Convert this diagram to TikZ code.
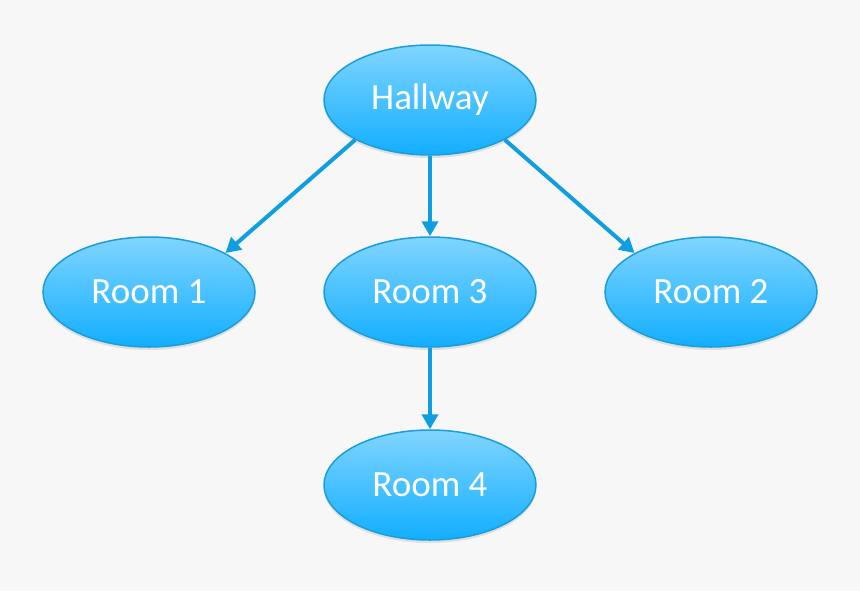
\documentclass[tikz,border=0pt]{standalone}
\usepackage{fontspec}
\setmainfont{Carlito}
\usetikzlibrary{shapes.geometric,arrows.meta,shadows}
\definecolor{bgc}{HTML}{F7F7F7}
\definecolor{roomtop}{HTML}{80D5FF}
\definecolor{roombot}{HTML}{12AEFF}
\definecolor{roomline}{HTML}{1A9ED9}
\definecolor{linkc}{HTML}{0F9EDF}
\begin{document}
\begin{tikzpicture}[>={Triangle[length=7.5pt,width=8pt]},x=0.5pt,y=0.5pt,
		room/.style={ellipse,draw=roomline,line width=0.75pt,top color=roomtop,bottom color=roombot,
			minimum width=106pt,minimum height=55pt,inner sep=0pt,text=white,
			font=\fontsize{18.5}{22}\selectfont,
			drop shadow={opacity=0.2,shadow xshift=0pt,shadow yshift=-1.5pt}},
		link/.style={->,draw=linkc,line width=2pt}]
			\fill[bgc] (0,0) rectangle (860,591);
			\useasboundingbox (0,0) rectangle (860,591);
			% nodes
			\node[room] (hall) at (430,491) {Hallway};
			\node[room] (r1) at (149,299) {Room 1};
			\node[room] (r3) at (430,299) {Room 3};
			\node[room] (r2) at (711,299) {Room 2};
			\node[room] (r4) at (430,106) {Room 4};
			% arrows
			\draw[link] (hall.208) -- (r1.27);
			\draw[link] (hall.south) -- (r3.north);
			\draw[link] (hall.332) -- (r2.153);
			\draw[link] (r3.south) -- (r4.north);
	\end{tikzpicture}
\end{document}
